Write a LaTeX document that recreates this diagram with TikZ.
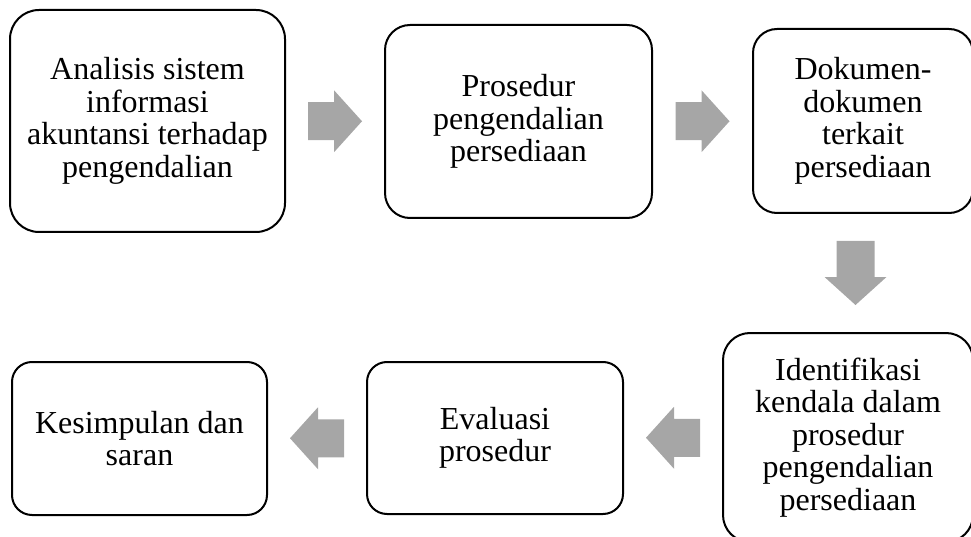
\documentclass[tikz,border=0pt]{standalone}
\usepackage{fontspec}
\setmainfont{Liberation Serif}
\usetikzlibrary{calc}

\definecolor{arrowgray}{HTML}{A6A6A6}

\tikzset{
  proc/.style={draw, line width=2pt, align=center, inner sep=0pt,
    font=\fontsize{32}{32.5}\selectfont},
  blockarrow/.pic={
    \fill[arrowgray] (-#1/2,-19) -- (#1/2-28,-19) -- (#1/2-28,-31) -- (#1/2,0)
      -- (#1/2-28,31) -- (#1/2-28,19) -- (-#1/2,19) -- cycle;
  }
}

\begin{document}
\begin{tikzpicture}[x=1pt, y=1pt]
  \useasboundingbox (0,0) rectangle (971,-537);
  % top row
  \node[proc, minimum width=275pt, minimum height=222pt, rounded corners=29pt]
    (analisis) at (147.5,-121) {Analisis sistem\\informasi\\akuntansi terhadap\\pengendalian};
  \node[proc, minimum width=267pt, minimum height=193pt, rounded corners=25pt]
    (prosedur) at (518.5,-121.5) {Prosedur\\pengendalian\\persediaan};
  \node[proc, minimum width=220pt, minimum height=184pt, rounded corners=24pt]
    (dokumen) at (863,-121) {Dokumen-\\dokumen\\terkait\\persediaan};
  % bottom row
  \node[proc, minimum width=250pt, minimum height=209pt, rounded corners=27pt]
    (identifikasi) at (848,-437.5) {Identifikasi\\kendala dalam\\prosedur\\pengendalian\\persediaan};
  \node[proc, minimum width=256pt, minimum height=152pt, rounded corners=20pt]
    (evaluasi) at (495,-438) {Evaluasi\\prosedur};
  \node[proc, minimum width=255pt, minimum height=153pt, rounded corners=20pt]
    (kesimpulan) at (139.5,-438.5) {Kesimpulan dan\\saran};
  % arrows
  \pic at ($(analisis.east)!0.5!(prosedur.west)$) {blockarrow=54};
  \pic at ($(prosedur.east)!0.5!(dokumen.west)$) {blockarrow=54};
  \pic[rotate=-90] at ($(dokumen.south)!0.5!(identifikasi.north)$) {blockarrow=64};
  \pic[rotate=180] at ($(identifikasi.west)!0.5!(evaluasi.east)$) {blockarrow=54};
  \pic[rotate=180] at ($(evaluasi.west)!0.5!(kesimpulan.east)$) {blockarrow=54};
\end{tikzpicture}
\end{document}
